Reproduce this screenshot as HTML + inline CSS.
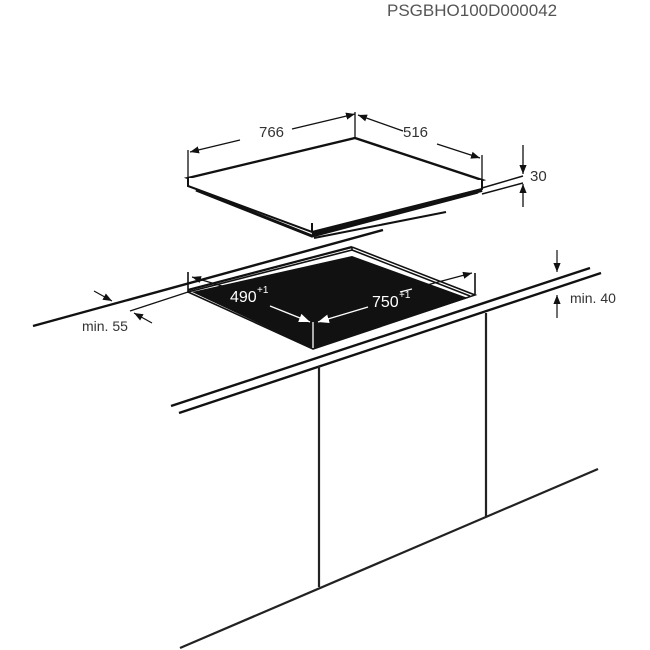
<!DOCTYPE html>
<html><head><meta charset="utf-8"><style>
html,body{margin:0;padding:0;background:#fff;}
svg{display:block;}
text{font-family:"Liberation Sans",sans-serif;}
</style></head><body>
<svg width="650" height="650" viewBox="0 0 650 650" xmlns="http://www.w3.org/2000/svg">
<defs>
<marker id="a" viewBox="0 0 10 10" refX="10" refY="5" markerWidth="9" markerHeight="9" orient="auto-start-reverse" markerUnits="userSpaceOnUse"><path d="M0,1 L10,5 L0,9 z" fill="#111"/></marker>
<marker id="w" viewBox="0 0 10 10" refX="10" refY="5" markerWidth="11" markerHeight="11" orient="auto-start-reverse" markerUnits="userSpaceOnUse"><path d="M0,1 L10,5 L0,9 z" fill="#fff"/></marker>
</defs>
<text x="387" y="16" font-size="17" fill="#555">PSGBHO100D000042</text>

<!-- hob -->
<g stroke="#111" fill="none" stroke-width="2">
<polygon points="188,178 355,138 482,180 312,223" fill="#fff" stroke-width="2.4"/>
<path d="M188,178 L188,186 L312,232 L482,189 L482,180" fill="#fff"/>
<path d="M312,223 L312,232"/>
<path d="M196,190 L312,236 L478,192" stroke-width="3"/>
<path d="M312,234 L482,190" stroke-width="4"/>
<path d="M314,238 L446,212" stroke-width="2"/>
<path d="M482,188 L523,176 M482,194 L523,183" stroke-width="1.5"/>
</g>
<g stroke="#111" fill="none" stroke-width="1.3">
<path d="M188,178 V150 M355,138 V112 M482,180 V155"/>
<path d="M240,140 L190,152" marker-end="url(#a)"/>
<path d="M292,129 L355,114" marker-end="url(#a)"/>
<path d="M403,131 L358,115" marker-end="url(#a)"/>
<path d="M437,144 L480,158" marker-end="url(#a)"/>
<path d="M523,145 V174" marker-end="url(#a)"/>
<path d="M523,207 V184" marker-end="url(#a)"/>
</g>
<text x="259" y="137" font-size="15" fill="#333">766</text>
<text x="403" y="137" font-size="15" fill="#333">516</text>
<text x="530" y="181" font-size="15" fill="#333">30</text>

<!-- countertop back -->
<g stroke="#111" fill="none">
<path d="M33,326 L383,230" stroke-width="2.4"/>
<path d="M188,290 L352,247" stroke-width="2.2"/>
</g>
<!-- cutout -->
<polygon points="192,292 352,256 468,298 313,349" fill="#111"/>
<g stroke="#111" fill="none" stroke-width="1.6">
<path d="M188,272 V292 L352,250 V247"/>
<path d="M352,247 L475,295 L313,349 L188,292"/>
<path d="M352,250 L470,296"/>
<path d="M475,273 V295"/>
</g>
<path d="M313,322 V348" stroke="#fff" stroke-width="1.3"/>
<g stroke="#111" stroke-width="1.2" fill="none">
<path d="M94,291 L112,301" marker-end="url(#a)"/>
<path d="M152,323 L134,313" marker-end="url(#a)"/>
<path d="M188,292 L130,311"/>
</g>
<g stroke="#fff" stroke-width="1.3" fill="none">
<path d="M270,306 L310,322" marker-end="url(#w)"/>
<path d="M368,307 L318,322" marker-end="url(#w)"/>
</g>
<g stroke="#111" stroke-width="1.2" fill="none">
<path d="M222,286 L192,277" marker-end="url(#a)"/>
<path d="M412,289 L472,273" marker-end="url(#a)"/>
</g>
<path d="M412,289 L400,292" stroke="#fff" stroke-width="1.2"/>
<text x="230" y="302" font-size="16" fill="#fff">490</text><text x="257" y="293" font-size="10" fill="#fff">+1</text>
<text x="372" y="307" font-size="16" fill="#fff">750</text><text x="399" y="298" font-size="10" fill="#fff">+1</text>
<text x="82" y="331" font-size="14" fill="#333">min. 55</text>

<!-- front counter -->
<g stroke="#111" fill="none" stroke-width="2.4">
<path d="M171,406 L590,268"/>
<path d="M179,413 L601,273"/>
</g>
<g stroke="#111" stroke-width="1.2" fill="none">
<path d="M557,250 V272" marker-end="url(#a)"/>
<path d="M557,318 V295" marker-end="url(#a)"/>
</g>
<text x="570" y="303" font-size="14" fill="#333">min. 40</text>

<!-- cabinet -->
<g stroke="#222" fill="none" stroke-width="2.2">
<path d="M319,366 V587"/>
<path d="M486,313 V517"/>
<path d="M180,648 L598,469"/>
</g>
</svg>
</body></html>
